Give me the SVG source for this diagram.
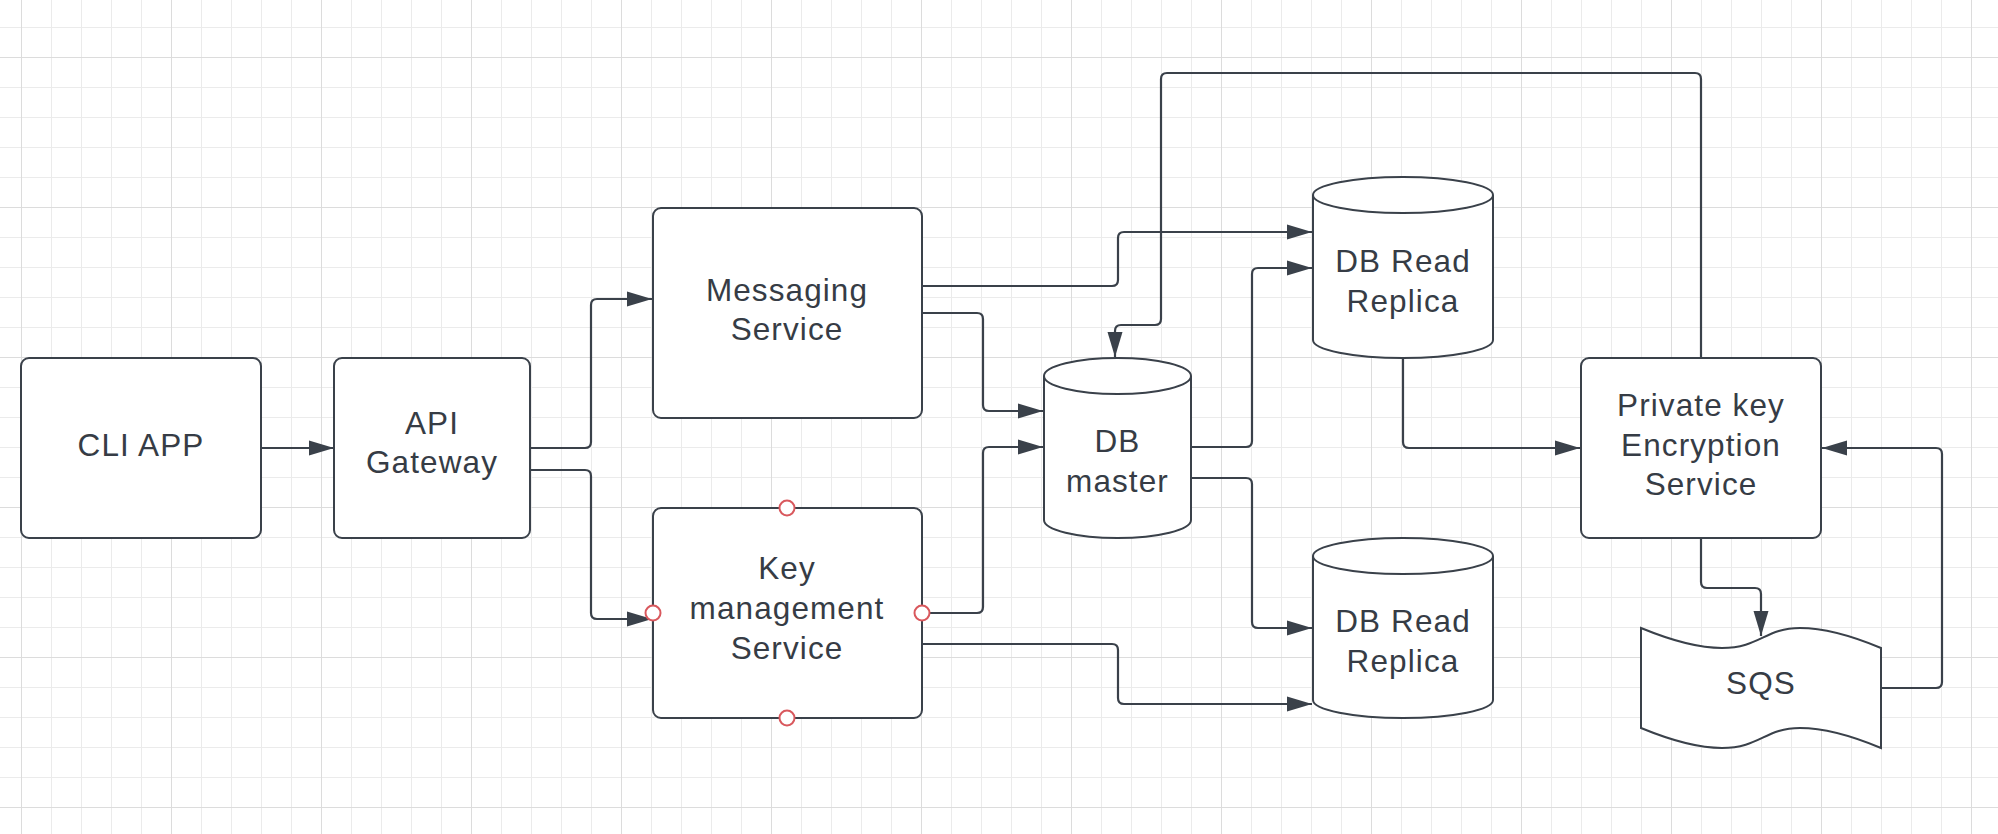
<svg xmlns="http://www.w3.org/2000/svg" width="1998" height="834" viewBox="0 0 1998 834">
<defs>
<pattern id="gmin" patternUnits="userSpaceOnUse" width="30" height="30">
<path d="M21.5,0 V30 M0,27.5 H30" stroke="#ebebeb" stroke-width="1" fill="none"/>
</pattern>
<pattern id="gmaj" patternUnits="userSpaceOnUse" width="150" height="150">
<path d="M21.5,0 V150 M0,57.5 H150" stroke="#dcdcdc" stroke-width="1" fill="none"/>
</pattern>
<marker id="arr" markerUnits="userSpaceOnUse" markerWidth="25" markerHeight="16" viewBox="0 0 25 16" refX="25" refY="8" orient="auto">
<path d="M0,0.5 L25,8 L0,15.5 Z" fill="#3a414a"/>
</marker>
<style>
.bg{fill:#ffffff}
.box{fill:#ffffff;stroke:#3a414a;stroke-width:2}
.ln{fill:none;stroke:#3a414a;stroke-width:2.2;marker-end:url(#arr)}
.lbl{font-family:"Liberation Sans",Arial,sans-serif;font-size:31.5px;letter-spacing:1.1px;fill:#363c45;text-anchor:middle}
.pt{fill:#ffffff;stroke:#d9585d;stroke-width:2}
</style>
</defs>
<rect class="bg" x="0" y="0" width="1998" height="834"/>
<rect x="0" y="0" width="1998" height="834" fill="url(#gmin)"/>
<rect x="0" y="0" width="1998" height="834" fill="url(#gmaj)"/>

<g id="connectors">
<path class="ln" d="M261,448 H334"/>
<path class="ln" d="M530,448 H585 Q591,448 591,442 V305 Q591,299 597,299 H652"/>
<path class="ln" d="M530,470 H585 Q591,470 591,476 V613 Q591,619 597,619 H652"/>
<path class="ln" d="M922,286 H1112 Q1118,286 1118,280 V238 Q1118,232 1124,232 H1312"/>
<path class="ln" d="M922,313 H977 Q983,313 983,319 V405 Q983,411 989,411 H1043"/>
<path class="ln" d="M922,613 H977 Q983,613 983,607 V453 Q983,447 989,447 H1043"/>
<path class="ln" d="M922,644 H1112 Q1118,644 1118,650 V698 Q1118,704 1124,704 H1312"/>
<path class="ln" d="M1191,447 H1246 Q1252,447 1252,441 V274 Q1252,268 1258,268 H1312"/>
<path class="ln" d="M1191,478 H1246 Q1252,478 1252,484 V622 Q1252,628 1258,628 H1312"/>
<path class="ln" d="M1403,358 V442 Q1403,448 1409,448 H1580"/>
<path class="ln" d="M1701,358 V79 Q1701,73 1695,73 H1167 Q1161,73 1161,79 V319 Q1161,325 1155,325 H1121 Q1115,325 1115,331 V357"/>
<path class="ln" d="M1701,538 V582 Q1701,588 1707,588 H1755 Q1761,588 1761,594 V636"/>
<path class="ln" d="M1881,688 H1936 Q1942,688 1942,682 V454 Q1942,448 1936,448 H1822"/>
</g>

<g id="cli-app">
<rect class="box" x="21" y="358" width="240" height="180" rx="8"/>
<text class="lbl" x="141" y="456">CLI APP</text>
</g>

<g id="api-gateway">
<rect class="box" x="334" y="358" width="196" height="180" rx="8"/>
<text class="lbl" x="432" y="434">API</text>
<text class="lbl" x="432" y="473">Gateway</text>
</g>

<g id="messaging-service">
<rect class="box" x="653" y="208" width="269" height="210" rx="8"/>
<text class="lbl" x="787" y="301">Messaging</text>
<text class="lbl" x="787" y="340">Service</text>
</g>

<g id="key-management-service">
<rect class="box" x="653" y="508" width="269" height="210" rx="8"/>
<text class="lbl" x="787" y="579">Key</text>
<text class="lbl" x="787" y="619">management</text>
<text class="lbl" x="787" y="659">Service</text>
<circle class="pt" cx="787" cy="508" r="7.5"/>
<circle class="pt" cx="787" cy="718" r="7.5"/>
<circle class="pt" cx="653" cy="613" r="7.5"/>
<circle class="pt" cx="922" cy="613" r="7.5"/>
</g>

<g id="db-master">
<path class="box" d="M1044,376 A73.5,18 0 0 1 1191,376 V520 A73.5,18 0 0 1 1044,520 Z"/>
<path class="box" fill="none" d="M1044,376 A73.5,18 0 0 0 1191,376"/>
<text class="lbl" x="1117.5" y="452">DB</text>
<text class="lbl" x="1117.5" y="492">master</text>
</g>

<g id="db-read-replica-1">
<path class="box" d="M1313,195 A90,18 0 0 1 1493,195 V340 A90,18 0 0 1 1313,340 Z"/>
<path class="box" fill="none" d="M1313,195 A90,18 0 0 0 1493,195"/>
<text class="lbl" x="1403" y="272">DB Read</text>
<text class="lbl" x="1403" y="312">Replica</text>
</g>

<g id="db-read-replica-2">
<path class="box" d="M1313,556 A90,18 0 0 1 1493,556 V700 A90,18 0 0 1 1313,700 Z"/>
<path class="box" fill="none" d="M1313,556 A90,18 0 0 0 1493,556"/>
<text class="lbl" x="1403" y="632">DB Read</text>
<text class="lbl" x="1403" y="672">Replica</text>
</g>

<g id="private-key-encryption-service">
<rect class="box" x="1581" y="358" width="240" height="180" rx="8"/>
<text class="lbl" x="1701" y="416">Private key</text>
<text class="lbl" x="1701" y="456">Encryption</text>
<text class="lbl" x="1701" y="495">Service</text>
</g>

<g id="sqs">
<path class="box" d="M1641,628 C1675,642 1700,648 1722,648 C1760,648 1765,628 1800,628 C1825,628 1850,635 1881,648 V748 C1850,735 1825,728 1800,728 C1765,728 1760,748 1722,748 C1700,748 1675,742 1641,728 Z"/>
<text class="lbl" x="1761" y="694">SQS</text>
</g>
</svg>
